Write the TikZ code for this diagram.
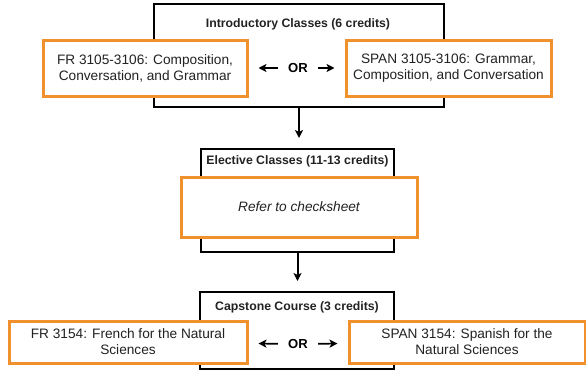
\documentclass[tikz,border=0pt]{standalone}
\usepackage{fontspec}
\setmainfont{Liberation Sans}
\usetikzlibrary{arrows.meta}

\definecolor{courseorange}{RGB}{240,145,45}
\definecolor{coursetext}{RGB}{34,34,34}

\tikzset{
	every group/.style={draw=black, line width=1.5pt, inner sep=0pt},
	every course/.style={draw=courseorange, line width=2.25pt, fill=white, inner sep=0pt,
		align=center, text=coursetext, font=\fontsize{10.25}{12}\selectfont},
	every title/.style={font=\bfseries\fontsize{9.2}{11}\selectfont, text=coursetext},
	every or/.style={font=\bfseries\fontsize{9.8}{11}\selectfont, inner sep=0pt},
	or arrow/.style={->, line width=1.3pt, shorten <=7.5pt, shorten >=7.5pt},
	down arrow/.style={->, line width=1.5pt, shorten >=7.5pt}
}

\begin{document}
\begin{tikzpicture}[x=0.75pt, y=-0.75pt, >={Stealth[length=6pt, width=6pt, inset=1.5pt]}]
	\useasboundingbox (0,0) rectangle (586,371);
	
	% group boxes
	\node [every group/.try, minimum width=217.5pt, minimum height=77.25pt] (intro) at (299,55.5) {};
	\node [every group/.try, minimum width=144.75pt, minimum height=77.25pt] (elective) at (297.5,200.5) {};
	\node [every group/.try, minimum width=145.5pt, minimum height=57.75pt] (capstone) at (297,330.5) {};
	
	% group titles
	\node [every title/.try] (intro-title) at (298,24) {Introductory Classes (6 credits)};
	\node [every title/.try] (elective-title) at (297.5,161) {Elective Classes (11-13 credits)};
	\node [every title/.try] (capstone-title) at (297,307) {Capstone Course (3 credits)};
	
	% courses
	\node [every course/.try, minimum width=153pt, minimum height=42pt] (fr-1) at (145,68)
		{FR 3105-3106: Composition,\\Conversation, and Grammar};
	\node [every course/.try, minimum width=153.75pt, minimum height=42pt] (span-1) at (448.5,68)
		{SPAN 3105-3106: Grammar,\\Composition, and Conversation};
	\node [every course/.try, minimum width=177pt, minimum height=45pt] (checksheet) at (299,207)
		{\itshape Refer to checksheet};
	\node [every course/.try, minimum width=178.5pt, minimum height=31.5pt] (fr-2) at (128,342)
		{FR 3154: French for the Natural\\Sciences};
	\node [every course/.try, minimum width=177pt, minimum height=31.5pt] (span-2) at (467,342)
		{SPAN 3154: Spanish for the\\Natural Sciences};
	
	% or
	\foreach \i/\y in {1/68, 2/344}
	\node [every or/.try] (or-\i) at (298,\y) {OR};
	
	\foreach \i in {1,2}
	{
		\draw [or arrow] (or-\i) -- (fr-\i);
		\draw [or arrow] (or-\i) -- (span-\i);
	}
	
	\draw [down arrow] (intro.south) -- (intro.south |- elective.north);
	\draw [down arrow] (elective.south) -- (elective.south |- capstone.north);
\end{tikzpicture}
\end{document}
